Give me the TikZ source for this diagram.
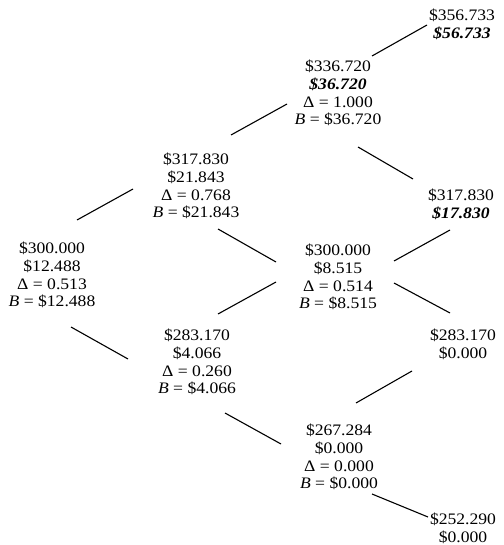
\documentclass[tikz,border=0pt]{standalone}
\usepackage{fontspec}
\setmainfont[FakeStretch=1.1]{Liberation Serif}
\usetikzlibrary{calc}
\tikzset{
  val/.style={align=center, inner sep=0pt, font=\fontsize{16}{17.8}\selectfont},
  conn/.style={line width=1.1pt, black}
}
\newcommand{\bi}[1]{\textbf{\textit{#1}}}
\begin{document}
\begin{tikzpicture}[x=1pt,y=-1pt]
\useasboundingbox (0,0) rectangle (503,545);
\node[val] (A)   at (52,275)  {\$300.000\\\$12.488\\Δ = 0.513\\\textit{B} = \$12.488};
\node[val] (Uu)  at (196,186) {\$317.830\\\$21.843\\Δ = 0.768\\\textit{B} = \$21.843};
\node[val] (Ud)  at (197,362) {\$283.170\\\$4.066\\Δ = 0.260\\\textit{B} = \$4.066};
\node[val] (Uuu) at (338,93)  {\$336.720\\\bi{\$36.720}\\Δ = 1.000\\\textit{B} = \$36.720};
\node[val] (M)   at (338,277) {\$300.000\\\$8.515\\Δ = 0.514\\\textit{B} = \$8.515};
\node[val] (D)   at (339,457) {\$267.284\\\$0.000\\Δ = 0.000\\\textit{B} = \$0.000};
\node[val] (T1)  at (462,24)  {\$356.733\\\bi{\$56.733}};
\node[val] (T2)  at (461,204) {\$317.830\\\bi{\$17.830}};
\node[val] (T3)  at (463,344) {\$283.170\\\$0.000};
\node[val] (T4)  at (463,528) {\$252.290\\\$0.000};
\draw[conn] ($(A)+(25,-55)$) -- ($(Uu)+(-63,3)$);
\draw[conn] ($(A)+(19,52)$) -- ($(Ud)+(-69,-3)$);
\draw[conn] ($(Uu)+(35,-51)$) -- ($(Uuu)+(-51,11)$);
\draw[conn] ($(Uu)+(22,43)$) -- ($(M)+(-62,-15)$);
\draw[conn] ($(Ud)+(21,-48)$) -- ($(M)+(-62,5)$);
\draw[conn] ($(Ud)+(28,51)$) -- ($(D)+(-58,-13)$);
\draw[conn] ($(Uuu)+(34,-37)$) -- ($(T1)+(-35,1)$);
\draw[conn] ($(Uuu)+(20,54)$) -- ($(T2)+(-48,-25)$);
\draw[conn] ($(M)+(56,-16)$) -- ($(T2)+(-11,26)$);
\draw[conn] ($(M)+(56,6)$) -- ($(T3)+(-13,-31)$);
\draw[conn] ($(D)+(17,-54)$) -- ($(T3)+(-51,27)$);
\draw[conn] ($(D)+(33,37)$) -- ($(T4)+(-35,-11)$);
\end{tikzpicture}
\end{document}
